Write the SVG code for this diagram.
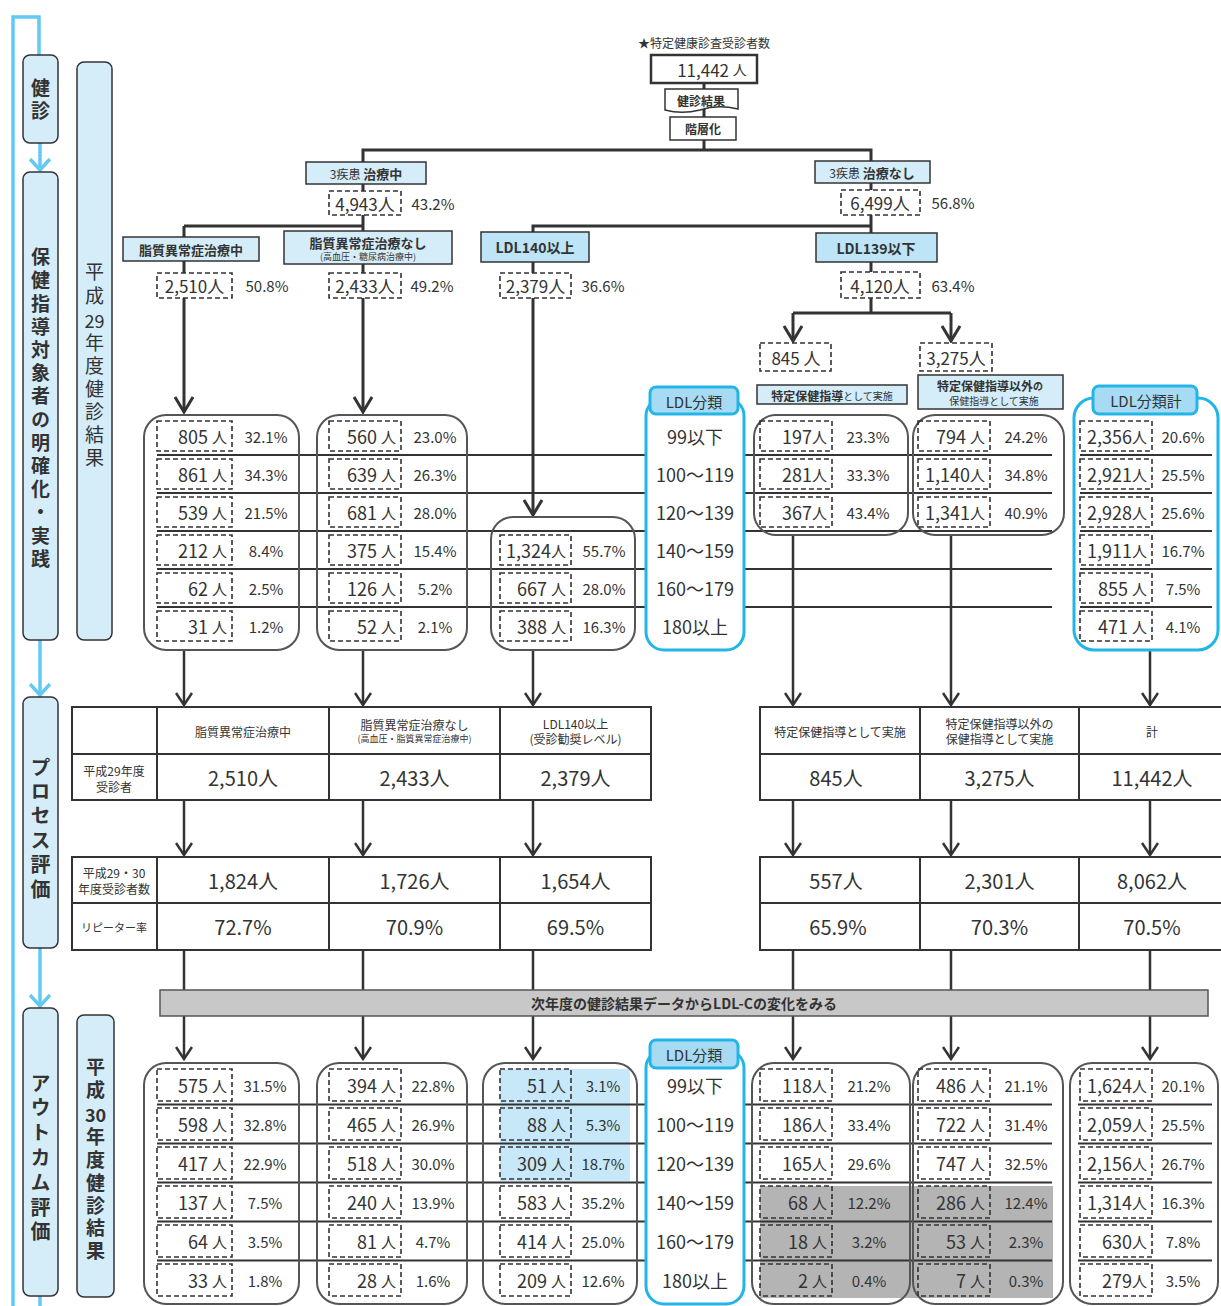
<svg xmlns="http://www.w3.org/2000/svg" width="1221" height="1306" viewBox="0 0 1221 1306">
<defs>
<style>
.t{font-family:"Noto Sans CJK JP","Noto Sans",sans-serif;fill:#333;dominant-baseline:central}
.v{font-family:"Noto Sans CJK JP","Noto Sans",sans-serif;fill:#333;writing-mode:vertical-rl;dominant-baseline:central}
.m{text-anchor:middle}
.b{font-weight:bold}
.num{font-size:18px;text-anchor:end}
.num tspan{font-size:15px}
.pct{font-size:15px;text-anchor:middle}
.big{font-size:20px;text-anchor:middle}
.hd{font-size:12px;text-anchor:middle}
.ldl{font-size:18px;text-anchor:middle}
.ln{fill:none;stroke:#333;stroke-width:3}
.ln2{fill:none;stroke:#333;stroke-width:2.5}
.sep{stroke:#333;stroke-width:2}
.dsh{fill:none;stroke:#333;stroke-width:1.6;stroke-dasharray:5 3}
.grp{fill:none;stroke:#555;stroke-width:2}
.lbl{fill:#d5edf9;stroke:#333;stroke-width:1.5}
.lbl2{fill:#bde5f7;stroke:#333;stroke-width:1.5}
.side{fill:#d5edf9;stroke:#333;stroke-width:1.5}
.blu{fill:#fff;stroke:#22b5e8;stroke-width:3}
.tab{fill:#a6dbf3;stroke:#22b5e8;stroke-width:3}
.tbl{fill:#fff;stroke:#333;stroke-width:2}
.bl{fill:none;stroke:#62c9f2;stroke-width:3.5}
</style>
<marker id="ah" viewBox="0 0 18 20" refX="16" refY="10" markerWidth="18" markerHeight="20" markerUnits="userSpaceOnUse" orient="auto"><path d="M1,1 L16,10 L1,19" fill="none" stroke="#333" stroke-width="3"/></marker>
<marker id="ah2" viewBox="0 0 15 18" refX="13" refY="9" markerWidth="15" markerHeight="18" markerUnits="userSpaceOnUse" orient="auto"><path d="M1,1 L13,9 L1,17" fill="none" stroke="#333" stroke-width="2.5"/></marker>
<marker id="ahb" viewBox="0 0 14 22" refX="12" refY="11" markerWidth="14" markerHeight="22" markerUnits="userSpaceOnUse" orient="auto"><path d="M1,1 L12,11 L1,21" fill="none" stroke="#62c9f2" stroke-width="3.5"/></marker>
</defs>
<rect width="1221" height="1306" fill="#fff"/>

<g id="highlights">
<rect x="500" y="1069" width="130" height="112" fill="#c6e8f8"/>
<rect x="760" y="1186" width="293" height="112" fill="#b4b4b5"/>
</g>

<g id="connectors">
<path class="bl" d="M13,1306 V17 H39 V55"/>
<line class="bl" x1="40" y1="143" x2="40" y2="170" marker-end="url(#ahb)"/>
<line class="bl" x1="40" y1="640" x2="40" y2="695" marker-end="url(#ahb)"/>
<line class="bl" x1="40" y1="948" x2="40" y2="1006" marker-end="url(#ahb)"/>
<line class="bl" x1="40" y1="1296" x2="40" y2="1306"/>
<line class="ln" x1="704" y1="83" x2="704" y2="150"/>
<path class="ln" d="M363,162 V150 H871 V162"/>
<line class="ln" x1="363" y1="184" x2="363" y2="191"/>
<path class="ln" d="M363,215 V226 M184,226 H363 V231 M184,226 V237"/>
<line class="ln" x1="184" y1="261" x2="184" y2="273"/>
<line class="ln" x1="363" y1="264" x2="363" y2="273"/>
<line class="ln" x1="184" y1="298" x2="184" y2="412" marker-end="url(#ah)"/>
<line class="ln" x1="363" y1="298" x2="363" y2="412" marker-end="url(#ah)"/>
<line class="ln" x1="533" y1="298" x2="533" y2="515" marker-end="url(#ah)"/>
<path class="ln" d="M533,232 V226 H871"/>
<line class="ln" x1="533" y1="262" x2="533" y2="273"/>
<line class="ln" x1="871" y1="183" x2="871" y2="190"/>
<line class="ln" x1="871" y1="215" x2="871" y2="233"/>
<line class="ln" x1="871" y1="262" x2="871" y2="272"/>
<path class="ln" d="M871,298 V313 M793,313 H951"/>
<line class="ln" x1="793" y1="313" x2="793" y2="341" marker-end="url(#ah)"/>
<line class="ln" x1="951" y1="313" x2="951" y2="341" marker-end="url(#ah)"/>
<line class="sep" x1="157" y1="455" x2="1052" y2="455"/>
<line class="sep" x1="157" y1="493" x2="1052" y2="493"/>
<line class="sep" x1="157" y1="531" x2="1052" y2="531"/>
<line class="sep" x1="157" y1="569" x2="1052" y2="569"/>
<line class="sep" x1="157" y1="607" x2="1052" y2="607"/>
<line class="ln2" x1="184" y1="650" x2="184" y2="705" marker-end="url(#ah2)"/>
<line class="ln2" x1="363" y1="650" x2="363" y2="705" marker-end="url(#ah2)"/>
<line class="ln2" x1="533" y1="650" x2="533" y2="705" marker-end="url(#ah2)"/>
<line class="ln2" x1="793" y1="535" x2="793" y2="705" marker-end="url(#ah2)"/>
<line class="ln2" x1="951" y1="535" x2="951" y2="705" marker-end="url(#ah2)"/>
<line class="ln2" x1="1150" y1="650" x2="1150" y2="705" marker-end="url(#ah2)"/>
<line class="ln2" x1="184" y1="800" x2="184" y2="855" marker-end="url(#ah2)"/>
<line class="ln2" x1="363" y1="800" x2="363" y2="855" marker-end="url(#ah2)"/>
<line class="ln2" x1="533" y1="800" x2="533" y2="855" marker-end="url(#ah2)"/>
<line class="ln2" x1="793" y1="800" x2="793" y2="855" marker-end="url(#ah2)"/>
<line class="ln2" x1="951" y1="800" x2="951" y2="855" marker-end="url(#ah2)"/>
<line class="ln2" x1="1150" y1="800" x2="1150" y2="855" marker-end="url(#ah2)"/>
<path class="ln2" d="M184,950 V990 M363,950 V990 M533,950 V990 M793,950 V990 M951,950 V990 M1150,950 V990"/>
<line class="ln2" x1="184" y1="1016" x2="184" y2="1059" marker-end="url(#ah2)"/>
<line class="ln2" x1="363" y1="1016" x2="363" y2="1059" marker-end="url(#ah2)"/>
<line class="ln2" x1="533" y1="1016" x2="533" y2="1059" marker-end="url(#ah2)"/>
<line class="ln2" x1="793" y1="1016" x2="793" y2="1059" marker-end="url(#ah2)"/>
<line class="ln2" x1="951" y1="1016" x2="951" y2="1059" marker-end="url(#ah2)"/>
<line class="ln2" x1="1150" y1="1016" x2="1150" y2="1059" marker-end="url(#ah2)"/>
<line class="sep" x1="157" y1="1104.5" x2="1052" y2="1104.5"/>
<line class="sep" x1="157" y1="1143.5" x2="1052" y2="1143.5"/>
<line class="sep" x1="157" y1="1182.5" x2="1052" y2="1182.5"/>
<line class="sep" x1="157" y1="1221.5" x2="1052" y2="1221.5"/>
<line class="sep" x1="157" y1="1260.5" x2="1052" y2="1260.5"/>
<line class="sep" x1="1078" y1="1104.5" x2="1212" y2="1104.5"/>
<line class="sep" x1="1078" y1="1143.5" x2="1212" y2="1143.5"/>
<line class="sep" x1="1078" y1="1182.5" x2="1212" y2="1182.5"/>
<line class="sep" x1="1078" y1="1221.5" x2="1212" y2="1221.5"/>
<line class="sep" x1="1078" y1="1260.5" x2="1212" y2="1260.5"/>
</g>

<g id="side-kenshin"><rect class="side" x="23" y="55" width="35" height="88" rx="7"/>
<text class="v b" x="40.5" y="78.5" font-size="19" letter-spacing="4">健診</text></g>
<g id="side-hokenshido"><rect class="side" x="23" y="172" width="35" height="468" rx="7"/>
<text class="v b" x="40.5" y="247.5" font-size="19" letter-spacing="4.2">保健指導対象者の明確化・実践</text></g>
<g id="side-h29"><rect class="side" x="77" y="62" width="35" height="578" rx="7"/>
<text class="v" x="94.5" y="262.5" font-size="19" letter-spacing="5">平成</text>
<text class="t m" x="94.5" y="320" font-size="18">29</text>
<text class="v" x="94.5" y="333.5" font-size="19" letter-spacing="3.9">年度健診結果</text></g>
<g id="side-process"><rect class="side" x="23" y="697" width="35" height="251" rx="7"/>
<text class="v b" x="40.5" y="757" font-size="20" letter-spacing="4.4">プロセス評価</text></g>
<g id="side-outcome"><rect class="side" x="23" y="1008" width="35" height="288" rx="7"/>
<text class="v b" x="40.5" y="1073" font-size="20" letter-spacing="4.8">アウトカム評価</text></g>
<g id="side-h30"><rect class="side" x="77" y="1015" width="37" height="282" rx="7"/>
<text class="v b" x="95.5" y="1057.5" font-size="19" letter-spacing="4">平成</text>
<text class="t m b" x="95.5" y="1114" font-size="18">30</text>
<text class="v b" x="95.5" y="1127.5" font-size="19" letter-spacing="3.8">年度健診結果</text></g>

<g id="n-total">
<text class="t m" x="704" y="42" font-size="12">★特定健康診査受診者数</text>
<rect x="651" y="55" width="106" height="28" fill="#fff" stroke="#333" stroke-width="2.5"/>
<text class="t m" x="712" y="69" font-size="17">11,442 <tspan font-size="14">人</tspan></text>
</g>
<g id="n-kekka"><path d="M665,89 H738 V109 C725,106 712,106 700,110 C688,113 676,113 665,110 Z" fill="#fff" stroke="#333" stroke-width="1.5"/>
<text class="t m b" x="701" y="100" font-size="12">健診結果</text></g>
<g id="n-kaisou"><rect x="670" y="117" width="66" height="23" fill="#fff" stroke="#333" stroke-width="1.5"/>
<text class="t m b" x="703" y="128.5" font-size="12">階層化</text></g>
<g id="n-chiryochu"><rect class="lbl" x="306" y="162" width="120" height="22"/>
<text class="t m" x="366" y="173"><tspan font-size="12">3疾患 </tspan><tspan font-size="13" font-weight="bold">治療中</tspan></text>
<rect class="dsh" x="329" y="191" width="72" height="24"/>
<text class="t m" x="365" y="203" font-size="17">4,943人</text>
<text class="t pct" x="433" y="203" font-size="14">43.2%</text></g>
<g id="n-chiryonashi"><rect class="lbl" x="815" y="161" width="115" height="22"/>
<text class="t m" x="872" y="172"><tspan font-size="12">3疾患 </tspan><tspan font-size="13" font-weight="bold">治療なし</tspan></text>
<rect class="dsh" x="841" y="190" width="79" height="25"/>
<text class="t m" x="880" y="202.5" font-size="17">6,499人</text>
<text class="t pct" x="953" y="202.5">56.8%</text></g>
<g id="n-shishitsu"><rect class="lbl" x="123" y="237" width="136" height="24"/>
<text class="t m b" x="191" y="249" font-size="13">脂質異常症治療中</text>
<rect class="dsh" x="157" y="273" width="75" height="25"/>
<text class="t m" x="194.5" y="285.5" font-size="17">2,510人</text>
<text class="t pct" x="267" y="285.5">50.8%</text></g>
<g id="n-shishitsunashi"><rect class="lbl" x="284" y="231" width="168" height="33"/>
<text class="t m b" x="368" y="242" font-size="13">脂質異常症治療なし</text>
<text class="t m" x="368" y="256" font-size="9">(高血圧・糖尿病治療中)</text>
<rect class="dsh" x="329" y="273" width="72" height="25"/>
<text class="t m" x="365" y="285.5" font-size="17">2,433人</text>
<text class="t pct" x="432" y="285.5">49.2%</text></g>
<g id="n-ldl140"><rect class="lbl2" x="481" y="232" width="108" height="30"/>
<text class="t m b" x="535" y="247" font-size="14">LDL140以上</text>
<rect class="dsh" x="500" y="273" width="71" height="25"/>
<text class="t m" x="535.5" y="285.5" font-size="17">2,379人</text>
<text class="t pct" x="603" y="285.5">36.6%</text></g>
<g id="n-ldl139"><rect class="lbl2" x="816" y="233" width="121" height="29"/>
<text class="t m b" x="876" y="247.5" font-size="14">LDL139以下</text>
<rect class="dsh" x="841" y="272" width="79" height="26"/>
<text class="t m" x="880" y="285" font-size="17">4,120人</text>
<text class="t pct" x="953" y="285">63.4%</text></g>
<g id="n-845"><rect class="dsh" x="760" y="343" width="71" height="28"/>
<text class="t m" x="796" y="357" font-size="17">845 人</text>
<rect class="lbl" x="757" y="385" width="150" height="19"/>
<text class="t m" x="832" y="394.5"><tspan font-size="12" font-weight="bold">特定保健指導</tspan><tspan font-size="10">として実施</tspan></text></g>
<g id="n-3275"><rect class="dsh" x="920" y="343" width="72" height="28"/>
<text class="t m" x="956" y="357" font-size="17">3,275人</text>
<rect class="lbl" x="918" y="375" width="145" height="34"/>
<text class="t m" x="990" y="385"><tspan font-size="12" font-weight="bold">特定保健指導以外</tspan><tspan font-size="10" font-weight="bold">の</tspan></text>
<text class="t m" x="994" y="400" font-size="10">保健指導として実施</text></g>

<g id="a-g1"><rect class="grp" x="144" y="415" width="155" height="235" rx="22"/>
<rect class="dsh" x="157" y="421" width="75" height="30"/><rect class="dsh" x="157" y="459" width="75" height="30"/><rect class="dsh" x="157" y="497" width="75" height="30"/><rect class="dsh" x="157" y="535" width="75" height="30"/><rect class="dsh" x="157" y="573" width="75" height="30"/><rect class="dsh" x="157" y="611" width="75" height="30"/>
<text class="t num" x="227" y="436">805 <tspan>人</tspan></text><text class="t num" x="227" y="474">861 <tspan>人</tspan></text><text class="t num" x="227" y="512">539 <tspan>人</tspan></text><text class="t num" x="227" y="550">212 <tspan>人</tspan></text><text class="t num" x="227" y="588">62 <tspan>人</tspan></text><text class="t num" x="227" y="626">31 <tspan>人</tspan></text>
<text class="t pct" x="266" y="436">32.1%</text><text class="t pct" x="266" y="474">34.3%</text><text class="t pct" x="266" y="512">21.5%</text><text class="t pct" x="266" y="550">8.4%</text><text class="t pct" x="266" y="588">2.5%</text><text class="t pct" x="266" y="626">1.2%</text></g>
<g id="a-g2"><rect class="grp" x="317" y="415" width="150" height="235" rx="22"/>
<rect class="dsh" x="329" y="421" width="72" height="30"/><rect class="dsh" x="329" y="459" width="72" height="30"/><rect class="dsh" x="329" y="497" width="72" height="30"/><rect class="dsh" x="329" y="535" width="72" height="30"/><rect class="dsh" x="329" y="573" width="72" height="30"/><rect class="dsh" x="329" y="611" width="72" height="30"/>
<text class="t num" x="396" y="436">560 <tspan>人</tspan></text><text class="t num" x="396" y="474">639 <tspan>人</tspan></text><text class="t num" x="396" y="512">681 <tspan>人</tspan></text><text class="t num" x="396" y="550">375 <tspan>人</tspan></text><text class="t num" x="396" y="588">126 <tspan>人</tspan></text><text class="t num" x="396" y="626">52 <tspan>人</tspan></text>
<text class="t pct" x="435" y="436">23.0%</text><text class="t pct" x="435" y="474">26.3%</text><text class="t pct" x="435" y="512">28.0%</text><text class="t pct" x="435" y="550">15.4%</text><text class="t pct" x="435" y="588">5.2%</text><text class="t pct" x="435" y="626">2.1%</text></g>
<g id="a-g3"><rect class="grp" x="491" y="517" width="144" height="133" rx="22"/>
<rect class="dsh" x="500" y="535" width="71" height="30"/><rect class="dsh" x="500" y="573" width="71" height="30"/><rect class="dsh" x="500" y="611" width="71" height="30"/>
<text class="t num" x="566" y="550">1,324<tspan>人</tspan></text><text class="t num" x="566" y="588">667 <tspan>人</tspan></text><text class="t num" x="566" y="626">388 <tspan>人</tspan></text>
<text class="t pct" x="604" y="550">55.7%</text><text class="t pct" x="604" y="588">28.0%</text><text class="t pct" x="604" y="626">16.3%</text></g>
<g id="a-ldl"><rect class="blu" x="646" y="398" width="98" height="252" rx="18"/>
<rect class="tab" x="650" y="387" width="88" height="27" rx="6"/>
<text class="t m" x="694" y="401" font-size="15">LDL分類</text>
<text class="t ldl" x="695" y="436">99以下</text><text class="t ldl" x="695" y="474">100～119</text><text class="t ldl" x="695" y="512">120～139</text><text class="t ldl" x="695" y="550">140～159</text><text class="t ldl" x="695" y="588">160～179</text><text class="t ldl" x="695" y="626">180以上</text></g>
<g id="a-g845"><rect class="grp" x="754" y="415" width="154" height="120" rx="22"/>
<rect class="dsh" x="760" y="421" width="72" height="30"/><rect class="dsh" x="760" y="459" width="72" height="30"/><rect class="dsh" x="760" y="497" width="72" height="30"/>
<text class="t num" x="827" y="436">197<tspan>人</tspan></text><text class="t num" x="827" y="474">281<tspan>人</tspan></text><text class="t num" x="827" y="512">367<tspan>人</tspan></text>
<text class="t pct" x="868" y="436">23.3%</text><text class="t pct" x="868" y="474">33.3%</text><text class="t pct" x="868" y="512">43.4%</text></g>
<g id="a-g3275"><rect class="grp" x="913" y="415" width="151" height="120" rx="22"/>
<rect class="dsh" x="918" y="421" width="72" height="30"/><rect class="dsh" x="918" y="459" width="72" height="30"/><rect class="dsh" x="918" y="497" width="72" height="30"/>
<text class="t num" x="985" y="436">794 <tspan>人</tspan></text><text class="t num" x="985" y="474">1,140<tspan>人</tspan></text><text class="t num" x="985" y="512">1,341<tspan>人</tspan></text>
<text class="t pct" x="1026" y="436">24.2%</text><text class="t pct" x="1026" y="474">34.8%</text><text class="t pct" x="1026" y="512">40.9%</text></g>
<g id="a-total"><rect class="blu" x="1074" y="398" width="144" height="252" rx="20"/>
<rect class="tab" x="1093" y="386" width="104" height="28" rx="6"/>
<text class="t m" x="1146" y="400.5" font-size="15">LDL分類計</text>
<line class="sep" x1="1080" y1="455" x2="1212" y2="455"/><line class="sep" x1="1080" y1="493" x2="1212" y2="493"/><line class="sep" x1="1080" y1="531" x2="1212" y2="531"/><line class="sep" x1="1080" y1="569" x2="1212" y2="569"/><line class="sep" x1="1080" y1="607" x2="1212" y2="607"/>
<rect class="dsh" x="1080" y="421" width="72" height="30"/><rect class="dsh" x="1080" y="459" width="72" height="30"/><rect class="dsh" x="1080" y="497" width="72" height="30"/><rect class="dsh" x="1080" y="535" width="72" height="30"/><rect class="dsh" x="1080" y="573" width="72" height="30"/><rect class="dsh" x="1080" y="611" width="72" height="30"/>
<text class="t num" x="1147" y="436">2,356<tspan>人</tspan></text><text class="t num" x="1147" y="474">2,921<tspan>人</tspan></text><text class="t num" x="1147" y="512">2,928<tspan>人</tspan></text><text class="t num" x="1147" y="550">1,911<tspan>人</tspan></text><text class="t num" x="1147" y="588">855 <tspan>人</tspan></text><text class="t num" x="1147" y="626">471 <tspan>人</tspan></text>
<text class="t pct" x="1183" y="436">20.6%</text><text class="t pct" x="1183" y="474">25.5%</text><text class="t pct" x="1183" y="512">25.6%</text><text class="t pct" x="1183" y="550">16.7%</text><text class="t pct" x="1183" y="588">7.5%</text><text class="t pct" x="1183" y="626">4.1%</text></g>

<g id="table-left">
<rect class="tbl" x="72" y="707" width="579" height="93"/>
<line class="sep" x1="72" y1="754" x2="651" y2="754"/>
<line class="sep" x1="157" y1="707" x2="157" y2="800"/><line class="sep" x1="329" y1="707" x2="329" y2="800"/><line class="sep" x1="500" y1="707" x2="500" y2="800"/>
<text class="t hd" x="243" y="731">脂質異常症治療中</text>
<text class="t hd" x="414.5" y="724">脂質異常症治療なし</text>
<text class="t m" x="414.5" y="738" font-size="9">(高血圧・脂質異常症治療中)</text>
<text class="t hd" x="575.5" y="723">LDL140以上</text>
<text class="t hd" x="575.5" y="738">(受診勧奨レベル)</text>
<text class="t hd" x="114" y="770">平成29年度</text>
<text class="t hd" x="114" y="786">受診者</text>
<text class="t big" x="243" y="777">2,510人</text><text class="t big" x="414.5" y="777">2,433人</text><text class="t big" x="575.5" y="777">2,379人</text>
<rect class="tbl" x="72" y="857" width="579" height="93"/>
<line class="sep" x1="72" y1="903" x2="651" y2="903"/>
<line class="sep" x1="157" y1="857" x2="157" y2="950"/><line class="sep" x1="329" y1="857" x2="329" y2="950"/><line class="sep" x1="500" y1="857" x2="500" y2="950"/>
<text class="t hd" x="114" y="872">平成29・30</text>
<text class="t hd" x="114" y="888">年度受診者数</text>
<text class="t m" x="114" y="927" font-size="11">リピーター率</text>
<text class="t big" x="243" y="880">1,824人</text><text class="t big" x="414.5" y="880">1,726人</text><text class="t big" x="575.5" y="880">1,654人</text>
<text class="t big" x="243" y="926">72.7%</text><text class="t big" x="414.5" y="926">70.9%</text><text class="t big" x="575.5" y="926">69.5%</text>
</g>
<g id="table-right">
<rect class="tbl" x="760" y="707" width="462" height="93"/>
<line class="sep" x1="760" y1="754" x2="1221" y2="754"/>
<line class="sep" x1="920" y1="707" x2="920" y2="800"/><line class="sep" x1="1079" y1="707" x2="1079" y2="800"/>
<text class="t hd" x="840" y="731">特定保健指導として実施</text>
<text class="t hd" x="999.5" y="723">特定保健指導以外の</text>
<text class="t hd" x="999.5" y="738">保健指導として実施</text>
<text class="t hd" x="1152" y="731">計</text>
<text class="t big" x="836" y="777">845人</text><text class="t big" x="999.5" y="777">3,275人</text><text class="t big" x="1152" y="777">11,442人</text>
<rect class="tbl" x="760" y="857" width="462" height="93"/>
<line class="sep" x1="760" y1="903" x2="1221" y2="903"/>
<line class="sep" x1="920" y1="857" x2="920" y2="950"/><line class="sep" x1="1079" y1="857" x2="1079" y2="950"/>
<text class="t big" x="836" y="880">557人</text><text class="t big" x="999.5" y="880">2,301人</text><text class="t big" x="1152" y="880">8,062人</text>
<text class="t big" x="838" y="926">65.9%</text><text class="t big" x="999.5" y="926">70.3%</text><text class="t big" x="1152" y="926">70.5%</text>
</g>
<g id="graybar"><rect x="160" y="990" width="1048" height="26" fill="#c8c8c8" stroke="#555" stroke-width="1.5"/>
<text class="t m b" x="684" y="1003" font-size="14">次年度の健診結果データからLDL-Cの変化をみる</text></g>

<g id="b-g1"><rect class="grp" x="144" y="1063" width="155" height="241" rx="22"/>
<rect class="dsh" x="157" y="1069" width="75" height="32"/><rect class="dsh" x="157" y="1108" width="75" height="32"/><rect class="dsh" x="157" y="1147" width="75" height="32"/><rect class="dsh" x="157" y="1186" width="75" height="32"/><rect class="dsh" x="157" y="1225" width="75" height="32"/><rect class="dsh" x="157" y="1264" width="75" height="32"/>
<text class="t num" x="227" y="1085">575 <tspan>人</tspan></text><text class="t num" x="227" y="1124">598 <tspan>人</tspan></text><text class="t num" x="227" y="1163">417 <tspan>人</tspan></text><text class="t num" x="227" y="1202">137 <tspan>人</tspan></text><text class="t num" x="227" y="1241">64 <tspan>人</tspan></text><text class="t num" x="227" y="1280">33 <tspan>人</tspan></text>
<text class="t pct" x="265" y="1085">31.5%</text><text class="t pct" x="265" y="1124">32.8%</text><text class="t pct" x="265" y="1163">22.9%</text><text class="t pct" x="265" y="1202">7.5%</text><text class="t pct" x="265" y="1241">3.5%</text><text class="t pct" x="265" y="1280">1.8%</text></g>
<g id="b-g2"><rect class="grp" x="317" y="1063" width="150" height="241" rx="22"/>
<rect class="dsh" x="329" y="1069" width="72" height="32"/><rect class="dsh" x="329" y="1108" width="72" height="32"/><rect class="dsh" x="329" y="1147" width="72" height="32"/><rect class="dsh" x="329" y="1186" width="72" height="32"/><rect class="dsh" x="329" y="1225" width="72" height="32"/><rect class="dsh" x="329" y="1264" width="72" height="32"/>
<text class="t num" x="396" y="1085">394 <tspan>人</tspan></text><text class="t num" x="396" y="1124">465 <tspan>人</tspan></text><text class="t num" x="396" y="1163">518 <tspan>人</tspan></text><text class="t num" x="396" y="1202">240 <tspan>人</tspan></text><text class="t num" x="396" y="1241">81 <tspan>人</tspan></text><text class="t num" x="396" y="1280">28 <tspan>人</tspan></text>
<text class="t pct" x="433" y="1085">22.8%</text><text class="t pct" x="433" y="1124">26.9%</text><text class="t pct" x="433" y="1163">30.0%</text><text class="t pct" x="433" y="1202">13.9%</text><text class="t pct" x="433" y="1241">4.7%</text><text class="t pct" x="433" y="1280">1.6%</text></g>
<g id="b-g3"><rect class="grp" x="483" y="1063" width="154" height="241" rx="22"/>
<rect class="dsh" x="500" y="1069" width="71" height="32"/><rect class="dsh" x="500" y="1108" width="71" height="32"/><rect class="dsh" x="500" y="1147" width="71" height="32"/><rect class="dsh" x="500" y="1186" width="71" height="32"/><rect class="dsh" x="500" y="1225" width="71" height="32"/><rect class="dsh" x="500" y="1264" width="71" height="32"/>
<text class="t num" x="566" y="1085">51 <tspan>人</tspan></text><text class="t num" x="566" y="1124">88 <tspan>人</tspan></text><text class="t num" x="566" y="1163">309 <tspan>人</tspan></text><text class="t num" x="566" y="1202">583 <tspan>人</tspan></text><text class="t num" x="566" y="1241">414 <tspan>人</tspan></text><text class="t num" x="566" y="1280">209 <tspan>人</tspan></text>
<text class="t pct" x="603" y="1085">3.1%</text><text class="t pct" x="603" y="1124">5.3%</text><text class="t pct" x="603" y="1163">18.7%</text><text class="t pct" x="603" y="1202">35.2%</text><text class="t pct" x="603" y="1241">25.0%</text><text class="t pct" x="603" y="1280">12.6%</text></g>
<g id="b-ldl"><rect class="blu" x="646" y="1050" width="98" height="254" rx="18"/>
<rect class="tab" x="650" y="1040" width="88" height="28" rx="6"/>
<text class="t m" x="694" y="1054" font-size="15">LDL分類</text>
<text class="t ldl" x="695" y="1085">99以下</text><text class="t ldl" x="695" y="1124">100～119</text><text class="t ldl" x="695" y="1163">120～139</text><text class="t ldl" x="695" y="1202">140～159</text><text class="t ldl" x="695" y="1241">160～179</text><text class="t ldl" x="695" y="1280">180以上</text></g>
<g id="b-g845"><rect class="grp" x="752" y="1063" width="158" height="241" rx="22"/>
<rect class="dsh" x="760" y="1069" width="72" height="32"/><rect class="dsh" x="760" y="1108" width="72" height="32"/><rect class="dsh" x="760" y="1147" width="72" height="32"/><rect class="dsh" x="760" y="1186" width="72" height="32"/><rect class="dsh" x="760" y="1225" width="72" height="32"/><rect class="dsh" x="760" y="1264" width="72" height="32"/>
<text class="t num" x="827" y="1085">118<tspan>人</tspan></text><text class="t num" x="827" y="1124">186<tspan>人</tspan></text><text class="t num" x="827" y="1163">165<tspan>人</tspan></text><text class="t num" x="827" y="1202">68 <tspan>人</tspan></text><text class="t num" x="827" y="1241">18 <tspan>人</tspan></text><text class="t num" x="827" y="1280">2 <tspan>人</tspan></text>
<text class="t pct" x="869" y="1085">21.2%</text><text class="t pct" x="869" y="1124">33.4%</text><text class="t pct" x="869" y="1163">29.6%</text><text class="t pct" x="869" y="1202">12.2%</text><text class="t pct" x="869" y="1241">3.2%</text><text class="t pct" x="869" y="1280">0.4%</text></g>
<g id="b-g3275"><rect class="grp" x="913" y="1063" width="150" height="241" rx="22"/>
<rect class="dsh" x="918" y="1069" width="72" height="32"/><rect class="dsh" x="918" y="1108" width="72" height="32"/><rect class="dsh" x="918" y="1147" width="72" height="32"/><rect class="dsh" x="918" y="1186" width="72" height="32"/><rect class="dsh" x="918" y="1225" width="72" height="32"/><rect class="dsh" x="918" y="1264" width="72" height="32"/>
<text class="t num" x="985" y="1085">486 <tspan>人</tspan></text><text class="t num" x="985" y="1124">722 <tspan>人</tspan></text><text class="t num" x="985" y="1163">747 <tspan>人</tspan></text><text class="t num" x="985" y="1202">286 <tspan>人</tspan></text><text class="t num" x="985" y="1241">53 <tspan>人</tspan></text><text class="t num" x="985" y="1280">7 <tspan>人</tspan></text>
<text class="t pct" x="1026" y="1085">21.1%</text><text class="t pct" x="1026" y="1124">31.4%</text><text class="t pct" x="1026" y="1163">32.5%</text><text class="t pct" x="1026" y="1202">12.4%</text><text class="t pct" x="1026" y="1241">2.3%</text><text class="t pct" x="1026" y="1280">0.3%</text></g>
<g id="b-total"><rect class="grp" x="1070" y="1063" width="148" height="241" rx="22"/>
<rect class="dsh" x="1080" y="1069" width="72" height="32"/><rect class="dsh" x="1080" y="1108" width="72" height="32"/><rect class="dsh" x="1080" y="1147" width="72" height="32"/><rect class="dsh" x="1080" y="1186" width="72" height="32"/><rect class="dsh" x="1080" y="1225" width="72" height="32"/><rect class="dsh" x="1080" y="1264" width="72" height="32"/>
<text class="t num" x="1147" y="1085">1,624<tspan>人</tspan></text><text class="t num" x="1147" y="1124">2,059<tspan>人</tspan></text><text class="t num" x="1147" y="1163">2,156<tspan>人</tspan></text><text class="t num" x="1147" y="1202">1,314<tspan>人</tspan></text><text class="t num" x="1147" y="1241">630<tspan>人</tspan></text><text class="t num" x="1147" y="1280">279<tspan>人</tspan></text>
<text class="t pct" x="1183" y="1085">20.1%</text><text class="t pct" x="1183" y="1124">25.5%</text><text class="t pct" x="1183" y="1163">26.7%</text><text class="t pct" x="1183" y="1202">16.3%</text><text class="t pct" x="1183" y="1241">7.8%</text><text class="t pct" x="1183" y="1280">3.5%</text></g>
</svg>
